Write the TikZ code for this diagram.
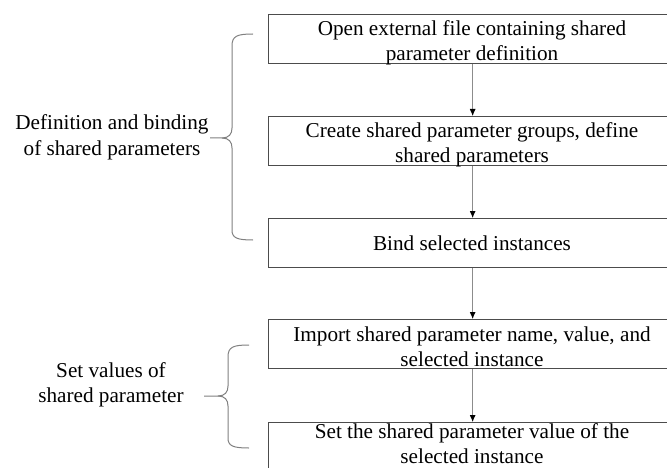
\documentclass[tikz,border=0pt]{standalone}
\usepackage{fontspec}
\setmainfont{Liberation Serif}
\usetikzlibrary{arrows.meta}
\begin{document}
\begin{tikzpicture}[x=1pt,y=-1pt,
  stepbox/.style={draw=black!70,line width=1.3pt,minimum width=408pt,minimum height=49pt,inner sep=0pt,anchor=north west},
  boxtext/.style={align=center,font=\fontsize{21.2}{25}\selectfont,inner sep=0pt},
  sidetext/.style={align=center,font=\fontsize{21.2}{25.5}\selectfont,inner sep=0pt},
  flow/.style={draw=black!45,line width=0.8pt,-{Latex[length=7pt,width=6pt,color=black]}},
  bracepath/.style={draw=black!50,line width=1pt}]
\useasboundingbox (0,0) rectangle (667,468);
% boxes
\node[stepbox] (b1) at (268,14) {};
\node[stepbox] (b2) at (268,116) {};
\node[stepbox] (b3) at (268,218) {};
\node[stepbox] (b4) at (268,319) {};
\node[stepbox] (b5) at (268,422) {};
% texts
\node[boxtext] (t1) at (472,42.5) {Open external file containing shared\\parameter definition};
\node[boxtext] (t2) at (472,144.5) {Create shared parameter groups, define\\shared parameters};
\node[boxtext] (t3) at (472,243) {Bind selected instances};
\node[boxtext] (t4) at (472,347) {Import shared parameter name, value, and\\selected instance};
\node[boxtext] (t5) at (472,444) {Set the shared parameter value of the\\selected instance};
% arrows
\draw[flow] (b1.south) -- (b2.north);
\draw[flow] (b2.south) -- (b3.north);
\draw[flow] (b3.south) -- (b4.north);
\draw[flow] (b4.south) -- (b5.north);
% side labels
\node[sidetext] (l1) at (112,137.5) {Definition and binding\\of shared parameters};
\node[sidetext] (l2) at (111,385) {Set values of\\shared parameter};
% braces
\coordinate (tip1) at (210,138);
\coordinate (tip2) at (204,396);
\draw[bracepath] (253,34) .. controls (237,34) and (232,36) .. (232,46) -- (232,128)
  .. controls (232,134) and (229,138) .. (222,138) -- (tip1);
\draw[bracepath] (222,138) .. controls (229,138) and (232,142) .. (232,148) -- (232,230)
  .. controls (232,238) and (237,240) .. (253,240);
\draw[bracepath] (249,345) .. controls (233,345) and (228,347) .. (228,357) -- (228,386)
  .. controls (228,392) and (225,396) .. (218,396) -- (tip2);
\draw[bracepath] (218,396) .. controls (225,396) and (228,400) .. (228,406) -- (228,438)
  .. controls (228,446) and (233,448) .. (249,448);
\end{tikzpicture}
\end{document}
